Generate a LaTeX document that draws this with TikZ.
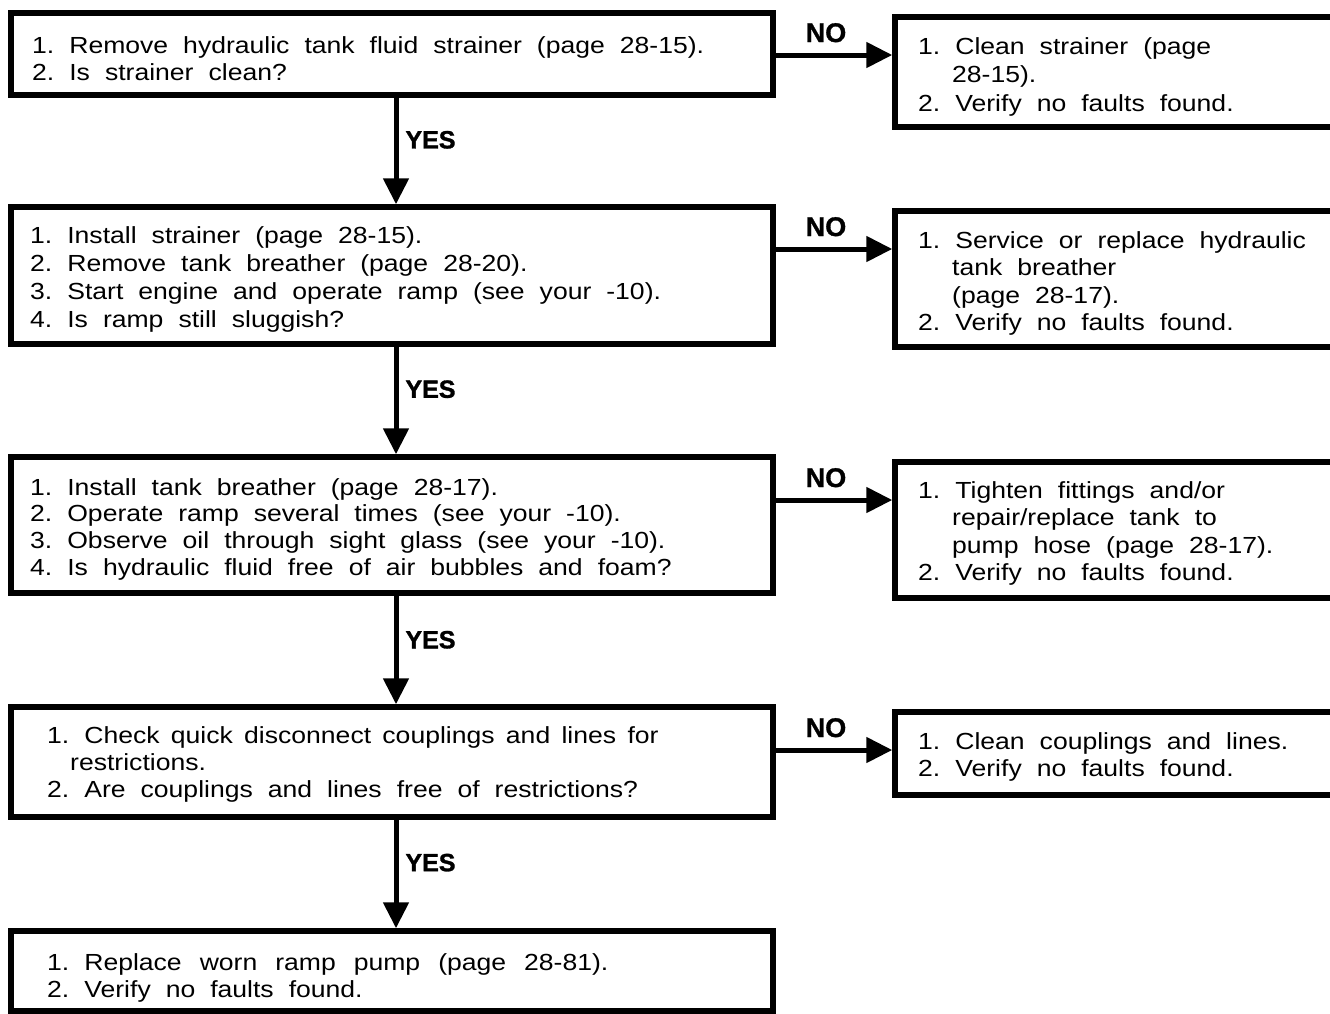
\documentclass[tikz,border=0pt]{standalone}
\usepackage{fontspec}
\setmainfont{Liberation Sans}[FakeStretch=1.14]
\newfontfamily\lblfont{Liberation Sans}[BoldFeatures={FakeBold=1.2}]
\usetikzlibrary{arrows.meta,calc}
\newcommand\boxlines[2]{\fontsize{23.3}{#1}\selectfont\spaceskip=15pt plus 3pt minus 2pt\frenchspacing\begin{tabular}[t]{@{}l@{}}#2\end{tabular}}
\newcommand\ind{\hspace*{34pt}}
\begin{document}
\begin{tikzpicture}[x=1pt,y=-1pt,
  box/.style={draw, line width=5.5pt, rectangle, inner sep=0pt, outer sep=0pt, anchor=north west},
  txt/.style={anchor=base west, inner sep=0pt},
  conn/.style={line width=5pt, -{Triangle[length=26pt,width=25pt]}},
  yeslbl/.style={font={\lblfont\bfseries\fontsize{25}{25}\selectfont}, inner sep=0pt, anchor=west, xshift=7pt},
  nolbl/.style={font={\lblfont\bfseries\fontsize{27}{27}\selectfont}, inner sep=0pt, anchor=base, yshift=13pt}]
\useasboundingbox (0,0) rectangle (1330,1013);
\fill[white] (0,0) rectangle (1330,1013);

% left column boxes
\node[box, minimum width=762pt, minimum height=82pt]  (a1) at (11,13)  {};
\node[box, minimum width=762pt, minimum height=137pt] (a2) at (11,207) {};
\node[box, minimum width=762pt, minimum height=136pt] (a3) at (11,457) {};
\node[box, minimum width=762pt, minimum height=110pt] (a4) at (11,707) {};
\node[box, minimum width=762pt, minimum height=80pt]  (a5) at (11,931) {};

% right column boxes
\node[box, minimum width=450pt, minimum height=110pt] (b1) at (895,17)  {};
\node[box, minimum width=450pt, minimum height=136pt] (b2) at (895,211) {};
\node[box, minimum width=450pt, minimum height=136pt] (b3) at (895,462) {};
\node[box, minimum width=450pt, minimum height=83pt]  (b4) at (895,712) {};

% texts
\node[txt] (a1t) at ([shift={(21,40)}]a1.north west) {\boxlines{27pt}{1. Remove hydraulic tank fluid strainer (page 28-15).\\2. Is strainer clean?}};
\node[txt] (a2t) at ([shift={(19,36)}]a2.north west) {\boxlines{28.3pt}{1. Install strainer (page 28-15).\\2. Remove tank breather (page 28-20).\\3. Start engine and operate ramp (see your -10).\\4. Is ramp still sluggish?}};
\node[txt] (a3t) at ([shift={(19,38)}]a3.north west) {\boxlines{26.8pt}{1. Install tank breather (page 28-17).\\2. Operate ramp several times (see your -10).\\3. Observe oil through sight glass (see your -10).\\4. Is hydraulic fluid free of air bubbles and foam?}};
\node[txt] (a4t) at ([shift={(36,36)}]a4.north west) {\boxlines{27.3pt}{1. {\spaceskip=11.3pt plus 2pt minus 1pt Check quick disconnect couplings and lines for}\\\hspace*{23pt}restrictions.\\2. Are couplings and lines free of restrictions?}};
\node[txt] (a5t) at ([shift={(36,39)}]a5.north west) {\boxlines{27pt}{1. {\spaceskip=18pt plus 2pt minus 1pt Replace worn ramp pump (page 28-81).}\\2. Verify no faults found.}};

\node[txt] (b1t) at ([shift={(23,37)}]b1.north west) {\boxlines{28.5pt}{1. Clean strainer (page\\\ind 28-15).\\2. Verify no faults found.}};
\node[txt] (b2t) at ([shift={(23,37)}]b2.north west) {\boxlines{27.6pt}{1. Service or replace hydraulic\\\ind tank breather\\\ind (page 28-17).\\2. Verify no faults found.}};
\node[txt] (b3t) at ([shift={(23,36)}]b3.north west) {\boxlines{27.5pt}{1. Tighten fittings and/or\\\ind repair/replace tank to\\\ind pump hose (page 28-17).\\2. Verify no faults found.}};
\node[txt] (b4t) at ([shift={(23,37)}]b4.north west) {\boxlines{27pt}{1. Clean couplings and lines.\\2. Verify no faults found.}};

% NO connectors
\coordinate (n1) at ([shift={(3,42)}]a1.north east);
\coordinate (n2) at ([shift={(3,42)}]a2.north east);
\coordinate (n3) at ([shift={(3,43)}]a3.north east);
\coordinate (n4) at ([shift={(3,43)}]a4.north east);
\draw[conn, shorten >=2.75pt] (n1) -- node[nolbl, pos=0.42] (no1) {NO} (n1 -| b1.west);
\draw[conn, shorten >=2.75pt] (n2) -- node[nolbl, pos=0.42] (no2) {NO} (n2 -| b2.west);
\draw[conn, shorten >=2.75pt] (n3) -- node[nolbl, pos=0.42] (no3) {NO} (n3 -| b3.west);
\draw[conn, shorten >=2.75pt] (n4) -- node[nolbl, pos=0.42] (no4) {NO} (n4 -| b4.west);

% YES connectors
\draw[conn, shorten <=2.75pt, shorten >=2.75pt] ([xshift=4pt]a1.south) -- node[yeslbl, pos=0.40] (y1) {YES} ([xshift=4pt]a2.north);
\draw[conn, shorten <=2.75pt, shorten >=2.75pt] ([xshift=4pt]a2.south) -- node[yeslbl, pos=0.40] (y2) {YES} ([xshift=4pt]a3.north);
\draw[conn, shorten <=2.75pt, shorten >=2.75pt] ([xshift=4pt]a3.south) -- node[yeslbl, pos=0.41] (y3) {YES} ([xshift=4pt]a4.north);
\draw[conn, shorten <=2.75pt, shorten >=2.75pt] ([xshift=4pt]a4.south) -- node[yeslbl, pos=0.40] (y4) {YES} ([xshift=4pt]a5.north);
\end{tikzpicture}
\end{document}
